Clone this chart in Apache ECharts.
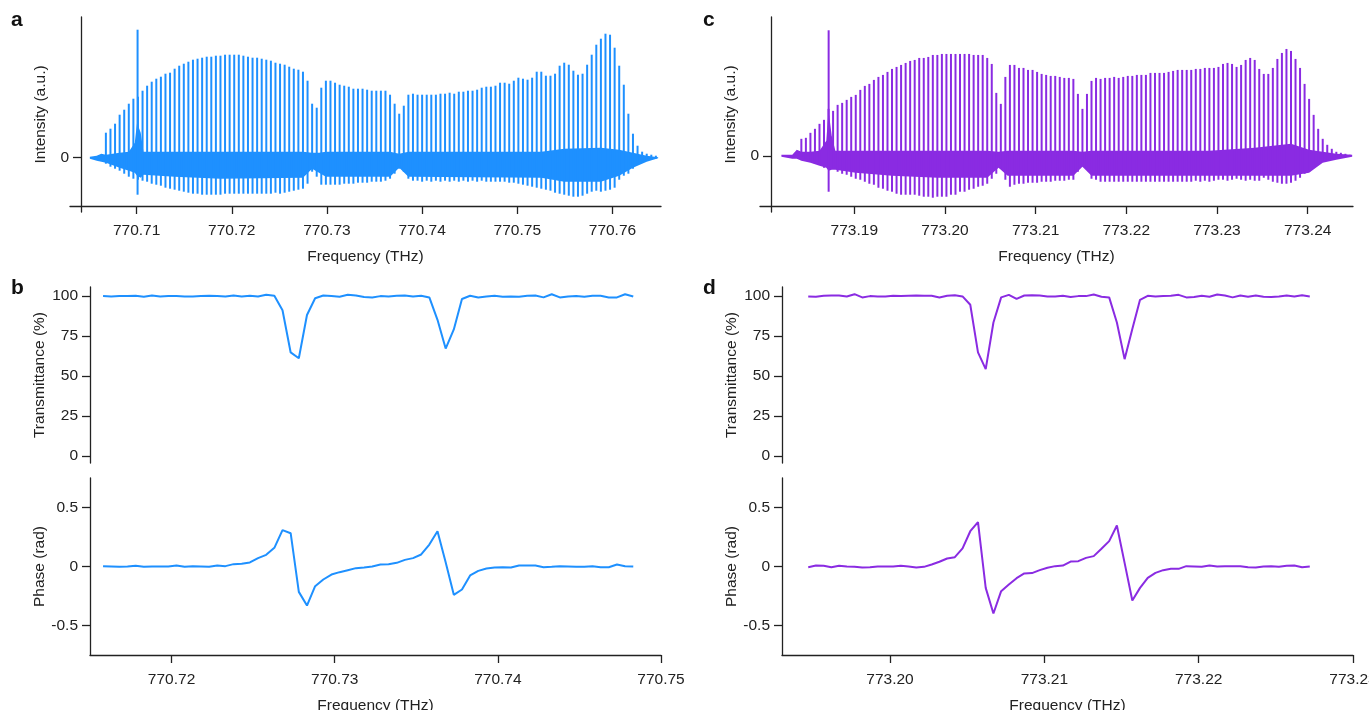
<!DOCTYPE html>
<html>
<head>
<meta charset="utf-8">
<script src="https://cdn.jsdelivr.net/npm/echarts@6/dist/echarts.min.js"></script>
<style>
html, body { margin: 0; padding: 0; background: #fff; }
#chart { width: 1369px; height: 710px; }
</style>
</head>
<body>
<div id="chart"></div>
<script>
// a: comb lines near 770.74 THz (tooth n sits at aStart + n * aStep)
const aStart = 770.70677
const aStep = 0.0004816
const aPeak = [
  0.25, 0.29, 0.34, 0.43, 0.48, 0.54, 0.59, 0.61, 0.67, 0.72,
  0.76, 0.79, 0.81, 0.84, 0.85, 0.89, 0.92, 0.94, 0.96, 0.98,
  0.99, 1.00, 1.01, 1.01, 1.02, 1.02, 1.03, 1.03, 1.03, 1.03,
  1.02, 1.01, 1.00, 1.00, 0.99, 0.98, 0.97, 0.95, 0.94, 0.93,
  0.91, 0.89, 0.88, 0.86, 0.77, 0.54, 0.50, 0.70, 0.77, 0.77,
  0.75, 0.73, 0.72, 0.71, 0.69, 0.69, 0.69, 0.68, 0.67, 0.67,
  0.67, 0.67, 0.63, 0.54, 0.44, 0.52, 0.63, 0.64, 0.63, 0.63,
  0.63, 0.63, 0.63, 0.64, 0.64, 0.65, 0.64, 0.66, 0.66, 0.67,
  0.67, 0.68, 0.70, 0.71, 0.71, 0.72, 0.75, 0.75, 0.74, 0.77,
  0.80, 0.79, 0.78, 0.80, 0.86, 0.86, 0.82, 0.82, 0.84, 0.92,
  0.95, 0.93, 0.87, 0.83, 0.84, 0.93, 1.03, 1.13, 1.19, 1.24,
  1.23, 1.10, 0.92, 0.73, 0.44, 0.24, 0.12, 0.06, 0.04, 0.03,
  0.02
]
const aTrough = [
  -0.06, -0.09, -0.11, -0.13, -0.16, -0.19, -0.21, -0.22, -0.23, -0.24,
  -0.26, -0.27, -0.28, -0.30, -0.31, -0.32, -0.33, -0.34, -0.35, -0.36,
  -0.36, -0.37, -0.37, -0.37, -0.37, -0.37, -0.36, -0.36, -0.36, -0.36,
  -0.36, -0.36, -0.36, -0.36, -0.36, -0.36, -0.36, -0.35, -0.36, -0.35,
  -0.34, -0.33, -0.32, -0.31, -0.26, -0.14, -0.19, -0.27, -0.27, -0.27,
  -0.27, -0.27, -0.26, -0.26, -0.26, -0.25, -0.25, -0.25, -0.24, -0.24,
  -0.24, -0.23, -0.21, -0.16, -0.11, -0.14, -0.21, -0.23, -0.23, -0.24,
  -0.23, -0.24, -0.23, -0.24, -0.23, -0.24, -0.23, -0.24, -0.23, -0.24,
  -0.23, -0.24, -0.23, -0.24, -0.24, -0.24, -0.24, -0.24, -0.25, -0.25,
  -0.26, -0.27, -0.28, -0.29, -0.30, -0.31, -0.32, -0.33, -0.35, -0.36,
  -0.37, -0.38, -0.39, -0.39, -0.38, -0.36, -0.34, -0.33, -0.34, -0.33,
  -0.32, -0.30, -0.22, -0.18, -0.16, -0.11, -0.06, -0.04, -0.03, -0.02,
  -0.01
]
const aSpike = [770.7101, 1.28, -0.37]
// dense beat band under the teeth, knots given at tooth index
const aBandAt = [-3.5, -2, -1, 0, 3, 5, 6.3, 6.8, 7.6, 8.2, 15, 25, 43, 45, 46.5, 48, 62, 64, 66, 95, 100, 108, 112, 115, 118, 120.5]
const aBandTop = [0.01, 0.02, 0.04, 0.03, 0.05, 0.06, 0.15, 0.35, 0.25, 0.06, 0.06, 0.06, 0.06, 0.05, 0.05, 0.06, 0.06, 0.04, 0.06, 0.06, 0.09, 0.10, 0.08, 0.05, 0.02, 0.005]
const aBandLow = [-0.01, -0.03, -0.04, -0.05, -0.10, -0.13, -0.15, -0.18, -0.20, -0.17, -0.19, -0.21, -0.20, -0.11, -0.15, -0.19, -0.19, -0.10, -0.19, -0.20, -0.24, -0.24, -0.18, -0.10, -0.04, -0.005]
const aTicks = [770.71, 770.72, 770.73, 770.74, 770.75, 770.76]

// b: transmittance and phase, 500 MHz grid
const bStart = 770.7158
const bStep = 0.0005
const bTrans = [
  99.8, 99.6, 99.8, 99.8, 100, 99.4, 100.2, 99.6, 99.8, 99.8,
  99.6, 99.6, 99.8, 100, 99.8, 99.6, 100.2, 99.6, 100, 99.6,
  100.6, 100, 91, 64.6, 61, 88, 98.5, 100.2, 99.8, 99.4,
  100.6, 100.2, 99.2, 99.0, 99.8, 99.6, 100, 100.2, 99.6, 100,
  99.0, 85, 67, 79, 98, 100, 99.0, 99.6, 100, 99.4,
  99.6, 99.4, 100, 100.2, 99.0, 101, 99.0, 99.6, 99.8, 99.4,
  100, 100, 99.0, 99.0, 101, 99.6
]
const bPhase = [
  0.003, 0, -0.003, 0, 0.006, -0.003, 0, 0, 0, 0.008,
  -0.003, 0.003, 0, -0.003, 0.008, 0.003, 0.02, 0.023, 0.034, 0.071,
  0.099, 0.158, 0.308, 0.282, -0.215, -0.331, -0.167, -0.11, -0.068, -0.048,
  -0.031, -0.014, -0.008, 0, 0.017, 0.02, 0.031, 0.056, 0.071, 0.102,
  0.186, 0.299, 0.037, -0.24, -0.195, -0.076, -0.037, -0.017, -0.008, -0.006,
  -0.008, 0.008, 0.008, 0.008, -0.006, -0.003, 0.003, 0, -0.003, -0.003,
  0.003, -0.006, -0.006, 0.017, 0.003, 0
]
const bTicks = [770.72, 770.73, 770.74, 770.75]

// c: comb lines near 773.21 THz
const cStart = 773.18416
const cStep = 0.0005
const cPeak = [
  0.17, 0.18, 0.23, 0.27, 0.32, 0.36, 0.47, 0.45, 0.51, 0.53,
  0.56, 0.59, 0.61, 0.66, 0.70, 0.72, 0.76, 0.79, 0.81, 0.84,
  0.87, 0.89, 0.91, 0.93, 0.95, 0.96, 0.98, 0.98, 0.99, 1.01,
  1.01, 1.02, 1.02, 1.02, 1.02, 1.02, 1.02, 1.02, 1.01, 1.01,
  1.01, 0.98, 0.92, 0.63, 0.52, 0.79, 0.91, 0.91, 0.88, 0.88,
  0.86, 0.86, 0.84, 0.82, 0.81, 0.80, 0.80, 0.79, 0.78, 0.78,
  0.77, 0.62, 0.47, 0.62, 0.75, 0.78, 0.77, 0.78, 0.78, 0.79,
  0.78, 0.79, 0.80, 0.80, 0.81, 0.81, 0.81, 0.83, 0.83, 0.83,
  0.83, 0.84, 0.85, 0.86, 0.86, 0.86, 0.86, 0.87, 0.87, 0.88,
  0.88, 0.88, 0.89, 0.92, 0.93, 0.92, 0.89, 0.91, 0.96, 0.98,
  0.96, 0.87, 0.82, 0.82, 0.88, 0.97, 1.03, 1.07, 1.05, 0.97,
  0.88, 0.72, 0.57, 0.41, 0.27, 0.17, 0.11, 0.07, 0.04, 0.03,
  0.02, 0.01
]
const cTrough = [
  -0.01, -0.03, -0.06, -0.08, -0.09, -0.12, -0.13, -0.13, -0.16, -0.18,
  -0.19, -0.21, -0.23, -0.24, -0.26, -0.28, -0.29, -0.32, -0.33, -0.35,
  -0.36, -0.38, -0.39, -0.39, -0.39, -0.39, -0.40, -0.41, -0.41, -0.42,
  -0.41, -0.41, -0.41, -0.39, -0.39, -0.36, -0.36, -0.34, -0.33, -0.31,
  -0.30, -0.28, -0.23, -0.18, -0.13, -0.24, -0.31, -0.29, -0.28, -0.28,
  -0.27, -0.27, -0.27, -0.26, -0.26, -0.26, -0.25, -0.25, -0.25, -0.24,
  -0.24, -0.16, -0.09, -0.13, -0.23, -0.24, -0.26, -0.26, -0.26, -0.26,
  -0.26, -0.26, -0.26, -0.26, -0.26, -0.26, -0.26, -0.26, -0.26, -0.26,
  -0.26, -0.26, -0.26, -0.26, -0.26, -0.26, -0.26, -0.25, -0.26, -0.25,
  -0.26, -0.25, -0.24, -0.24, -0.25, -0.24, -0.23, -0.24, -0.25, -0.24,
  -0.25, -0.25, -0.22, -0.24, -0.26, -0.27, -0.28, -0.28, -0.27, -0.25,
  -0.22, -0.18, -0.16, -0.11, -0.08, -0.06, -0.04, -0.03, -0.02, -0.02,
  -0.01, -0.01
]
const cSpike = [773.18717, 1.257, -0.36]
const cBandAt = [-4.4, -2, -1, 0, 2, 4, 5.5, 6, 6.7, 7.5, 12, 20, 30, 41, 43.5, 45.5, 60, 62, 64, 90, 100, 108, 112, 115, 118, 121.5]
const cBandTop = [0.01, 0.01, 0.06, 0.04, 0.04, 0.05, 0.15, 0.45, 0.2, 0.05, 0.05, 0.05, 0.05, 0.05, 0.04, 0.05, 0.05, 0.04, 0.05, 0.05, 0.08, 0.12, 0.06, 0.04, 0.02, 0.01]
const cBandLow = [-0.01, -0.03, -0.03, -0.05, -0.07, -0.10, -0.12, -0.15, -0.14, -0.14, -0.17, -0.20, -0.22, -0.22, -0.12, -0.20, -0.20, -0.11, -0.20, -0.20, -0.20, -0.20, -0.17, -0.07, -0.04, -0.01]
const cTicks = [773.19, 773.20, 773.21, 773.22, 773.23, 773.24]

// d: transmittance and phase
const dStart = 773.1947
const dStep = 0.0005
const dTrans = [
  99.6, 99.4, 100, 100.2, 100.2, 99.6, 101.0, 99.0, 99.8, 99.6,
  99.6, 100, 99.8, 100, 100.2, 100, 100, 99.0, 100, 100.4,
  99.6, 94.4, 64.6, 54.2, 83.3, 99.0, 100.6, 98.1, 100.2, 100.4,
  100.2, 99.6, 99.6, 100, 99.2, 99.8, 99.8, 100.8, 99.4, 99.0,
  83.3, 60.4, 79.2, 97.5, 100, 99.6, 99.8, 100, 100.6, 99.0,
  99.2, 100, 99.4, 100.8, 100.2, 99.0, 100.2, 99.4, 100.2, 99.4,
  99.2, 99.6, 100.2, 99.6, 100.4, 99.6
]
const dPhase = [
  -0.006, 0.008, 0.006, -0.006, 0.006, 0, -0.003, -0.008, -0.006, 0,
  0, 0, 0.006, 0, -0.008, -0.003, 0.017, 0.04, 0.068, 0.079,
  0.153, 0.299, 0.376, -0.181, -0.398, -0.209, -0.153, -0.099, -0.059, -0.056,
  -0.031, -0.011, 0.003, 0.008, 0.042, 0.045, 0.073, 0.088, 0.15, 0.215,
  0.347, 0.031, -0.288, -0.181, -0.096, -0.054, -0.031, -0.02, -0.02, 0.003,
  0, -0.003, 0.008, 0, 0.003, 0.003, 0.003, -0.006, -0.008, 0,
  0.003, -0.003, 0.006, 0.008, -0.006, 0
]
const dTicks = [773.20, 773.21, 773.22, 773.23]

const blue = '#1e90ff'
const purple = '#8a2be2'
const ink = '#222'
const font = 'Liberation Sans'

function teeth(start, step, peak, trough, spike) {
  const out = peak.map((p, i) => [start + i * step, p, trough[i]])
  out.push(spike)
  return out
}
function trace(start, step, vals) {
  return vals.map((v, i) => [start + i * step, v])
}

function renderTooth(color) {
  return function(params, api) {
    const p1 = api.coord([api.value(0), api.value(1)])
    const p2 = api.coord([api.value(0), api.value(2)])
    return {
      type: 'line',
      shape: { x1: p1[0], y1: p1[1], x2: p2[0], y2: p2[1] },
      style: { stroke: color, lineWidth: 2 }
    }
  }
}

const tickStyle = { color: ink, width: 1.3 }
const labelStyle = { color: ink, fontSize: 15.5, fontFamily: font }
const nameStyle = { color: ink, fontSize: 15.5, fontFamily: font }
const fmt = v => v.toFixed(2)

function freqAxis(grid, min, max, ticks, offset) {
  return {
    type: 'value', gridIndex: grid, min: min, max: max, offset: offset || 0,
    name: 'Frequency (THz)', nameLocation: 'middle', nameGap: 43, nameTextStyle: nameStyle,
    axisLine: { show: true, onZero: false, lineStyle: { color: ink, width: 1.3 } },
    axisTick: { show: true, length: 8, lineStyle: tickStyle, customValues: ticks },
    axisLabel: { show: true, margin: 17, formatter: fmt, customValues: ticks, ...labelStyle },
    splitLine: { show: false }
  }
}
function hiddenX(grid, min, max) {
  return { type: 'value', gridIndex: grid, min: min, max: max, show: false, splitLine: { show: false } }
}
function valAxis(grid, min, max, ticks, name, gap, offset) {
  return {
    type: 'value', gridIndex: grid, min: min, max: max, offset: offset || 0,
    name: name, nameLocation: 'middle', nameGap: gap, nameTextStyle: nameStyle,
    axisLine: { show: true, onZero: false, lineStyle: { color: ink, width: 1.3 } },
    axisTick: { show: true, length: 8, lineStyle: tickStyle, customValues: ticks },
    axisLabel: { show: true, margin: 12, customValues: ticks, ...labelStyle },
    splitLine: { show: false }
  }
}

// band of fast beating under the teeth: one polygon through the read knots
function bandSeries(ax, color, start, step, at, top, low) {
  return {
    type: 'custom', xAxisIndex: ax, yAxisIndex: ax,
    encode: { x: 0, y: 1 },
    data: [[start + at[0] * step, 0]],
    renderItem: function(params, api) {
      const pts = []
      at.forEach((n, i) => pts.push(api.coord([start + n * step, top[i]])))
      for (let i = at.length - 1; i >= 0; i--) pts.push(api.coord([start + at[i] * step, low[i]]))
      return { type: 'polygon', shape: { points: pts }, style: { fill: color } }
    }
  }
}
function toothSeries(ax, color, start, step, peak, trough, spike) {
  return {
    type: 'custom', xAxisIndex: ax, yAxisIndex: ax,
    encode: { x: 0, y: [1, 2] },
    renderItem: renderTooth(color),
    data: teeth(start, step, peak, trough, spike)
  }
}
function traceSeries(ax, color, start, step, vals) {
  return {
    type: 'line', xAxisIndex: ax, yAxisIndex: ax, symbol: 'none',
    lineStyle: { color: color, width: 2 },
    data: trace(start, step, vals)
  }
}

const chart = echarts.init(document.getElementById('chart'))
chart.setOption({
  animation: false,
  backgroundColor: '#fff',
  grid: [
    { left: 70, top: 17, width: 591, height: 195, outerBoundsMode: 'none' },
    { left: 90, top: 287, width: 571, height: 176, outerBoundsMode: 'none' },
    { left: 90, top: 478, width: 571, height: 177, outerBoundsMode: 'none' },
    { left: 760, top: 17, width: 593, height: 195, outerBoundsMode: 'none' },
    { left: 782, top: 287, width: 571, height: 176, outerBoundsMode: 'none' },
    { left: 782, top: 478, width: 571, height: 177, outerBoundsMode: 'none' }
  ],
  xAxis: [
    freqAxis(0, 770.703, 770.7651, aTicks, -6),
    hiddenX(1, 770.715, 770.75),
    freqAxis(2, 770.715, 770.75, bTicks),
    freqAxis(3, 773.1796, 773.245, cTicks, -6),
    hiddenX(4, 773.193, 773.23),
    freqAxis(5, 773.193, 773.23, dTicks)
  ],
  yAxis: [
    valAxis(0, -0.543, 1.407, [0], 'Intensity (a.u.)', 32, -11),
    valAxis(1, -4.5, 105.5, [0, 25, 50, 75, 100], 'Transmittance (%)', 42),
    valAxis(2, -0.75, 0.75, [-0.5, 0, 0.5], 'Phase (rad)', 42),
    valAxis(3, -0.563, 1.39, [0], 'Intensity (a.u.)', 32, -11),
    valAxis(4, -4.5, 105.5, [0, 25, 50, 75, 100], 'Transmittance (%)', 42),
    valAxis(5, -0.75, 0.75, [-0.5, 0, 0.5], 'Phase (rad)', 42)
  ],
  series: [
    bandSeries(0, blue, aStart, aStep, aBandAt, aBandTop, aBandLow),
    toothSeries(0, blue, aStart, aStep, aPeak, aTrough, aSpike),
    traceSeries(1, blue, bStart, bStep, bTrans),
    traceSeries(2, blue, bStart, bStep, bPhase),
    bandSeries(3, purple, cStart, cStep, cBandAt, cBandTop, cBandLow),
    toothSeries(3, purple, cStart, cStep, cPeak, cTrough, cSpike),
    traceSeries(4, purple, dStart, dStep, dTrans),
    traceSeries(5, purple, dStart, dStep, dPhase)
  ],
  graphic: [
    { type: 'text', left: 11, top: 10, style: { text: 'a', font: 'bold 21px Liberation Sans', fill: '#111' } },
    { type: 'text', left: 11, top: 278, style: { text: 'b', font: 'bold 21px Liberation Sans', fill: '#111' } },
    { type: 'text', left: 703, top: 10, style: { text: 'c', font: 'bold 21px Liberation Sans', fill: '#111' } },
    { type: 'text', left: 703, top: 278, style: { text: 'd', font: 'bold 21px Liberation Sans', fill: '#111' } }
  ]
})
</script>
</body>
</html>
